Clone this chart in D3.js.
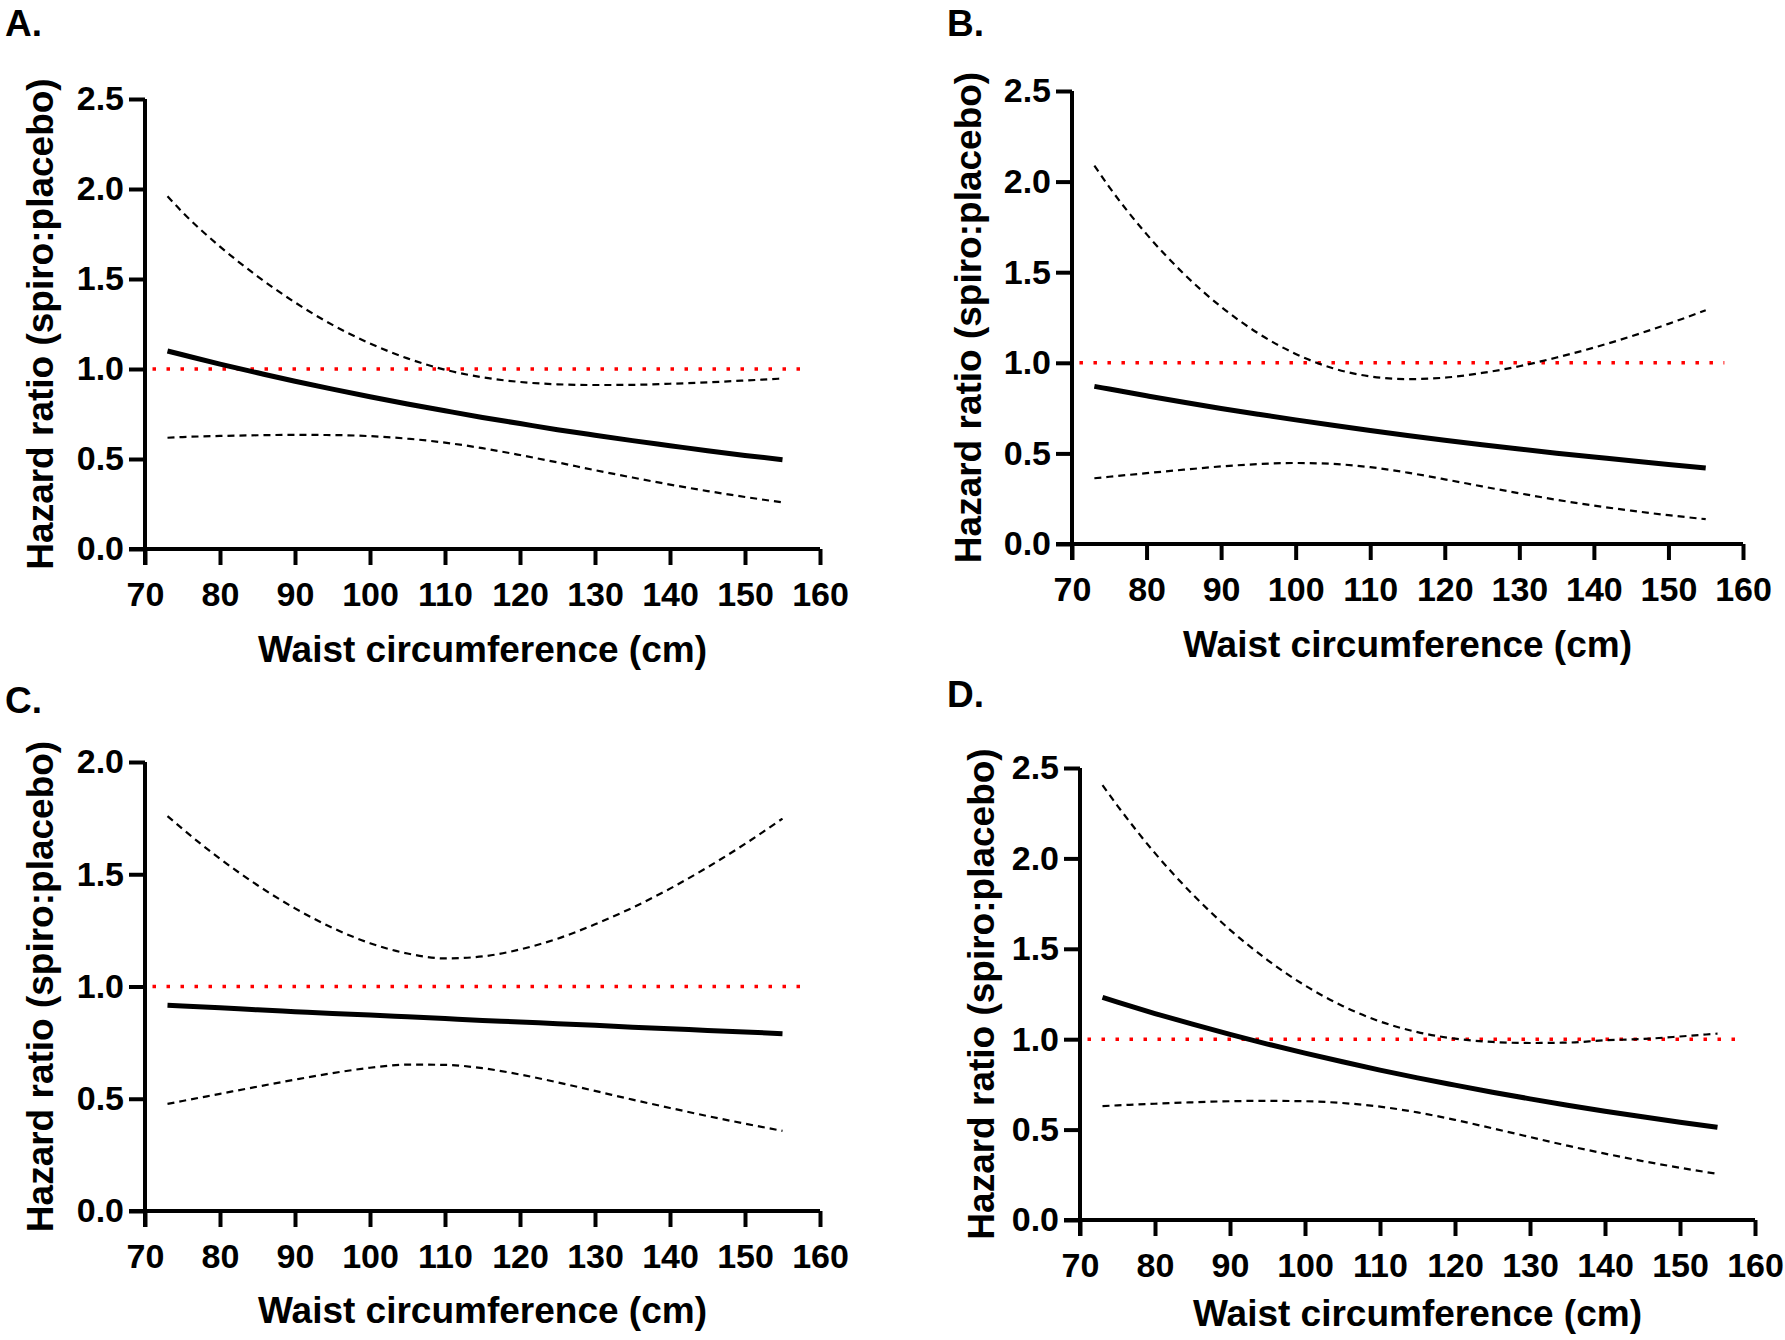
<!DOCTYPE html>
<html><head><meta charset="utf-8">
<script src="https://cdn.jsdelivr.net/npm/d3@7"></script>
<style>
body{margin:0;background:#fff}
svg{display:block}
text{font-family:"Liberation Sans",Arial,sans-serif;font-weight:bold;fill:#000}
</style></head>
<body><svg id="chart" width="1785" height="1340"></svg>
<script>
// ---- data ----
const waist = [73,75,80,85,90,95,100,105,110,115,120,125,130,135,140,145,150,155];
const xTicks = [70,80,90,100,110,120,130,140,150,160];
const yTicks25 = [0,0.5,1.0,1.5,2.0,2.5];
const yTicks20 = [0,0.5,1.0,1.5,2.0];
const refLineX = [71,157.5];
const refValue = 1.0;

const mainA  = [1.10,1.079,1.027,0.979,0.932,0.888,0.846,0.806,0.768,0.731,0.697,0.663,0.632,0.602,0.574,0.546,0.520,0.496];
const upperA = [1.96,1.871,1.68,1.515,1.37,1.245,1.142,1.059,0.996,0.954,0.928,0.915,0.911,0.912,0.918,0.926,0.936,0.947];
const lowerA = [0.618,0.622,0.628,0.632,0.634,0.633,0.627,0.613,0.591,0.560,0.522,0.481,0.438,0.397,0.358,0.322,0.289,0.259];

const mainB  = [0.870,0.855,0.818,0.782,0.748,0.716,0.685,0.655,0.626,0.599,0.573,0.548,0.524,0.501,0.480,0.459,0.439,0.420];
const upperB = [2.088,1.970,1.710,1.491,1.309,1.162,1.049,0.970,0.925,0.910,0.918,0.944,0.981,1.029,1.084,1.146,1.215,1.290];
const lowerB = [0.363,0.371,0.391,0.410,0.428,0.441,0.447,0.442,0.424,0.394,0.357,0.318,0.280,0.244,0.212,0.184,0.159,0.137];

const mainC  = [0.916,0.913,0.905,0.896,0.888,0.880,0.873,0.865,0.857,0.849,0.842,0.834,0.827,0.819,0.812,0.804,0.797,0.790];
const upperC = [1.759,1.702,1.569,1.451,1.348,1.261,1.193,1.147,1.125,1.134,1.165,1.213,1.277,1.351,1.436,1.531,1.635,1.748];
const lowerC = [0.477,0.490,0.522,0.554,0.585,0.614,0.638,0.652,0.651,0.636,0.608,0.573,0.535,0.496,0.459,0.423,0.389,0.357];

const mainD  = [1.231,1.205,1.142,1.083,1.027,0.973,0.923,0.875,0.829,0.786,0.746,0.707,0.670,0.635,0.602,0.571,0.541,0.513];
const upperD = [2.405,2.291,2.029,1.802,1.605,1.438,1.297,1.184,1.098,1.039,1.003,0.985,0.979,0.981,0.994,1.001,1.015,1.031];
const lowerD = [0.630,0.634,0.643,0.651,0.657,0.659,0.657,0.647,0.627,0.595,0.554,0.507,0.459,0.411,0.367,0.326,0.289,0.255];

const xTitle = "Waist circumference (cm)";
const yTitle = "Hazard ratio (spiro:placebo)";

// ---- layout ----
const panels = [
  {label:"A.", main:mainA, upper:upperA, lower:lowerA, yTicks:yTicks25, left:145, right:820, top:99, bottom:549, lx:5, ly:36, ytx:40, xto:113},
  {label:"B.", main:mainB, upper:upperB, lower:lowerB, yTicks:yTicks25, left:1072, right:1743, top:91, bottom:544, lx:947, ly:36, ytx:968, xto:113},
  {label:"C.", main:mainC, upper:upperC, lower:lowerC, yTicks:yTicks20, left:145, right:820, top:762, bottom:1211, lx:5, ly:713, ytx:40, xto:112},
  {label:"D.", main:mainD, upper:upperD, lower:lowerD, yTicks:yTicks25, left:1080, right:1755, top:768, bottom:1220, lx:947, ly:707, ytx:981, xto:106}
];

const svg = d3.select("#chart");
const fmt = d3.format(".1f");

panels.forEach(p => {
  const x = d3.scaleLinear().domain([70,160]).range([p.left,p.right]);
  const yMax = d3.max(p.yTicks);
  const y = d3.scaleLinear().domain([0,yMax]).range([p.bottom,p.top]);
  const g = svg.append("g");

  g.append("text").attr("x",p.lx).attr("y",p.ly).attr("font-size",37).text(p.label);

  // reference line
  g.append("line")
    .attr("x1",x(refLineX[0])).attr("x2",x(refLineX[1]))
    .attr("y1",y(refValue)).attr("y2",y(refValue))
    .attr("stroke","#ff0000").attr("stroke-width",3.5)
    .attr("stroke-dasharray","3.5 10.5");

  const line = d3.line().x((d,i)=>x(waist[i])).y(d=>y(d)).curve(d3.curveMonotoneX);
  [p.upper,p.lower].forEach(arr => {
    g.append("path").attr("d",line(arr)).attr("fill","none")
      .attr("stroke","#000").attr("stroke-width",2.2).attr("stroke-dasharray","7 5");
  });
  g.append("path").attr("d",line(p.main)).attr("fill","none")
    .attr("stroke","#000").attr("stroke-width",5);

  // axes
  const xAxis = d3.axisBottom(x).tickValues(xTicks).tickSize(16).tickSizeOuter(0).tickPadding(17).tickFormat(d3.format("d"));
  const yAxis = d3.axisLeft(y).tickValues(p.yTicks).tickSize(16).tickSizeOuter(0).tickPadding(5).tickFormat(fmt);
  const gx = g.append("g").attr("transform",`translate(0,${p.bottom})`).call(xAxis);
  const gy = g.append("g").attr("transform",`translate(${p.left},0)`).call(yAxis);
  [gx,gy].forEach(a=>{
    a.select(".domain").attr("stroke","#000").attr("stroke-width",4);
    a.selectAll(".tick line").attr("stroke","#000").attr("stroke-width",4);
    a.selectAll(".tick text").attr("font-size",34).attr("font-family","Liberation Sans, Arial, sans-serif").attr("font-weight","bold").attr("fill","#000");
  });
  gx.select(".domain").attr("d",`M${p.left-16},0H${p.right}`);
  gy.select(".domain").attr("d",`M0,${p.bottom+16}V${p.top}`);

  g.append("text").attr("x",(p.left+p.right)/2).attr("y",p.bottom+p.xto)
    .attr("text-anchor","middle").attr("font-size",37).text(xTitle);
  g.append("text").attr("transform",`translate(${p.ytx},${(p.top+p.bottom)/2}) rotate(-90)`)
    .attr("text-anchor","middle").attr("dominant-baseline","central").attr("font-size",37).text(yTitle);
});
</script></body></html>
